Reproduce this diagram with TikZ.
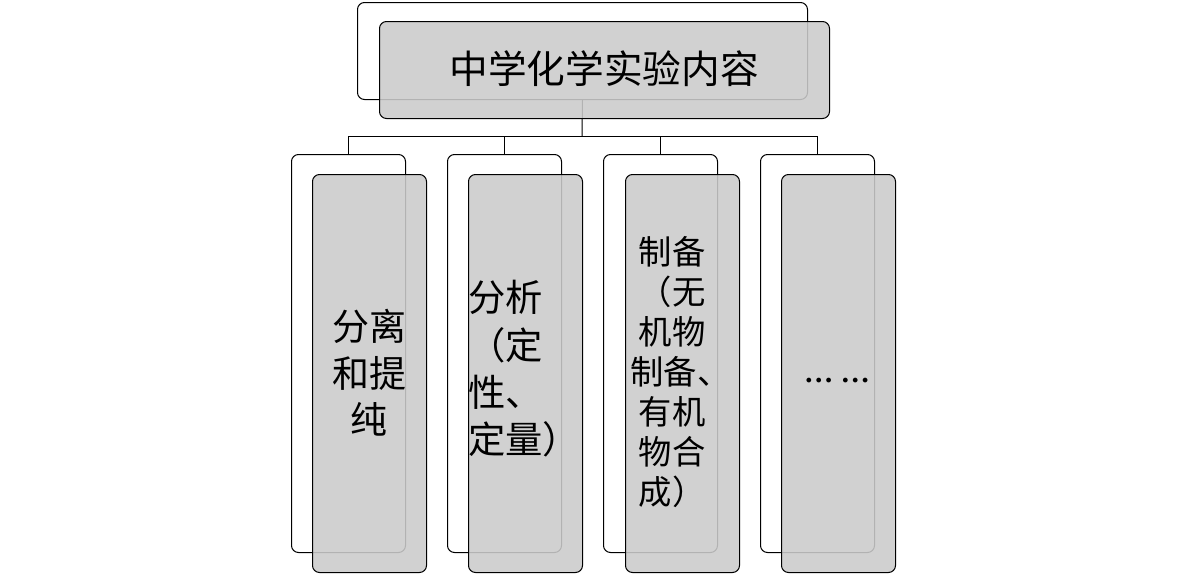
\documentclass[tikz,border=0pt]{standalone}
\usepackage{fontspec}
\setmainfont{Liberation Serif}
\newfontfamily\cjk{Noto Sans CJK SC}
\definecolor{boxgray}{RGB}{203,203,203}
\begin{document}
\begin{tikzpicture}[x=0.75pt,y=-0.75pt,
  backbox/.style={draw=black, line width=0.75pt, rounded corners=5.25pt, fill=white, anchor=north west, inner sep=0pt},
  frontbox/.style={backbox, fill=boxgray, fill opacity=0.88},
  topsize/.style={minimum width=337.5pt, minimum height=72.75pt},
  colsize/.style={minimum width=85.5pt, minimum height=298.5pt},
  link/.style={draw=black, line width=0.75pt},
  lbl/.style={inner sep=0pt, text=black}]
\useasboundingbox (0,0) rectangle (1186,575);

% back (outline) boxes
\node[backbox, topsize] (topb) at (357,2) {};
\node[backbox, colsize] (b1) at (291,154) {};
\node[backbox, colsize] (b2) at (447,154) {};
\node[backbox, colsize] (b3) at (603,154) {};
\node[backbox, colsize] (b4) at (760,154) {};

% connectors
\coordinate (bus) at (582,136);
\draw[link] (topb.south) -- (bus);
\draw[link] (bus -| b1.north) -- (bus -| b4.north);
\foreach \n in {b1,b2,b3,b4} \draw[link] (bus -| \n.north) -- (\n.north);

% front (grey) boxes
\node[frontbox, topsize] (top) at (379,21) {};
\node[frontbox, colsize] (f1) at (312,174) {};
\node[frontbox, colsize] (f2) at (468,174) {};
\node[frontbox, colsize] (f3) at (625,174) {};
\node[frontbox, colsize] (f4) at (781,174) {};

% labels
\node[lbl, font={\cjk\fontsize{29}{35}\selectfont}] (ttl) at (604,69) {中学化学实验内容};
\node[lbl, align=center, font={\cjk\fontsize{27.75}{35}\selectfont}] (t1) at (369,373) {分离\\和提\\纯};
\node[lbl, align=left, anchor=west, font={\cjk\fontsize{28}{35.5}\selectfont}] (t2) at (468,369) {分析\\（定\\性、\\定量）};
\node[lbl, align=center, font={\cjk\fontsize{25}{30}\selectfont}] (t3) at (672,372) {制备\\（无\\机物\\制备\makebox[0.5em][l]{、}\\有机\\物合\\成）};
\node[lbl, anchor=base, font={\bfseries\fontsize{22}{26}\selectfont}] (t4) at (837,382) {… …};
\end{tikzpicture}
\end{document}
